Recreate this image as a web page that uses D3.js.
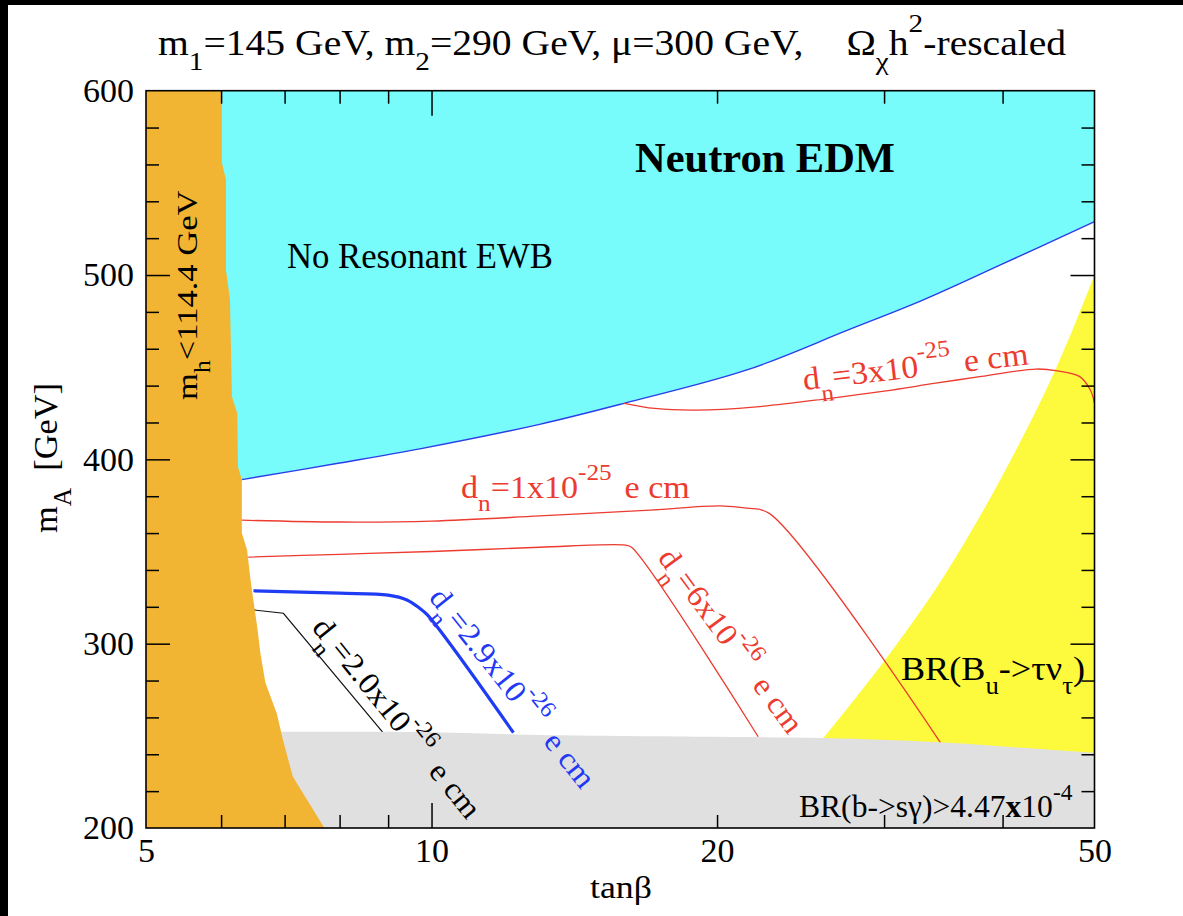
<!DOCTYPE html>
<html>
<head>
<meta charset="utf-8">
<script src="https://cdn.jsdelivr.net/npm/d3@7"></script>
<style>
  html, body { margin: 0; padding: 0; background: #fff; }
  svg { display: block; }
</style>
</head>
<body>
<svg id="chart" width="1183" height="916"></svg>
<script>
// ---------------- data ----------------
const xDomain = [5, 50];            // tan(beta), log scale
const yDomain = [200, 600];         // m_A [GeV]
const xTickLabels = [5, 10, 20, 50];
const xLongTicks = [10];
const xShortTicks = [6, 7, 8, 9, 20, 30, 40];
const yTickLabels = [200, 300, 400, 500, 600];
const yLongTicks = [300, 400, 500];
const yShortTicks = [220, 240, 260, 280, 320, 340, 360, 380, 420, 440, 460, 480, 520, 540, 560, 580];

// m_h < 114.4 GeV excluded region: right boundary (tanb, mA)
const higgsBound = [[6.01,600],[6.01,561],[6.07,552],[6.07,503],[6.13,487],[6.16,434],[6.24,425],[6.25,396],
  [6.31,389],[6.31,360],[6.39,351],[6.44,336],[6.47,328],[6.55,309],[6.60,295],[6.68,279],[6.87,262],
  [6.97,248],[7.14,228],[7.71,200]];
// Neutron EDM excluded region: lower boundary
const edmBound = [[6.31,389],[8,398],[9.72,405.7],[13,419],[15.96,430.4],[21.5,448.5],[27.5,470.2],[33,486.5],[40,506],[50,529]];
// BR(b->s gamma) excluded region: upper boundary
const bsgBound = [[5,252],[10,252],[13,250.5],[20,249.5],[26,248.8],[35,246.3],[42,243.5],[50,240.7]];
// BR(Bu->tau nu) excluded region: left boundary
const btaunuBound = [[25.9,248.8],[29.85,289],[33.95,329.1],[37.4,364.4],[40.7,398.6],[44.35,436.5],[47.35,469.6],[50,500]];

// d_n contours
const dn3e25 = [[15.96,430.4],[17.2,427.6],[19,426.7],[22,428.5],[26.2,433],[30,437],[34,441.3],[38,445],[43.4,449],[45.7,448],[48.2,445],[49.5,437.6],[50,430.5]];
const dn1e25 = [[6.31,367],[8,366],[10,366.5],[13,369.3],[17,372.5],[20.15,374.8],[21.5,373.5],[22.7,370.7],[34.4,246.3]];
const dn6e26 = [[6.41,347],[8,348.5],[10,350],[13,352.3],[16,353.5],[16.25,352.3],[22.1,249.5]];
const dn29e26 = [[6.49,328.7],[8,327.4],[9,326.3],[9.42,323.7],[9.7,319.5],[9.9,315.6],[12.2,251.7]];
const dn20e26 = [[6.49,318.3],[6.98,316.5],[8.89,251.7]];

// ---------------- drawing ----------------
const W = 1183, H = 916;
const FONT = "'Liberation Serif', 'Times New Roman', 'DejaVu Serif', serif";
const svg = d3.select('#chart');

svg.append('rect').attr('x',0).attr('y',0).attr('width',W).attr('height',H).attr('fill','#000');
svg.append('rect').attr('x',8).attr('y',5).attr('width',W-8).attr('height',H-5).attr('fill','#fff');

const x = d3.scaleLog().domain(xDomain).range([146, 1094.5]);
const y = d3.scaleLinear().domain(yDomain).range([828, 90.7]);

const line = d3.line().x(d => x(d[0])).y(d => y(d[1]));
const smooth = d3.line().x(d => x(d[0])).y(d => y(d[1])).curve(d3.curveCatmullRom.alpha(0.5));
const P = (a, b) => `L${x(a)},${y(b)}`;

const plot = svg.append('g');

// cyan EDM region (smooth lower boundary)
const edmRev = edmBound.slice().reverse();
plot.append('path')
  .attr('d', smooth(edmRev) + P(5, 389) + P(5, 600) + P(50, 600) + 'Z')
  .attr('fill', '#77fbfb');
// yellow B->tau nu region
plot.append('path')
  .attr('d', smooth(btaunuBound) + P(50, 200) + P(25.9, 200) + 'Z')
  .attr('fill', '#fdfa3e');

// contour lines
plot.append('path').attr('d', smooth(edmBound)).attr('fill','none').attr('stroke','#2b3ee8').attr('stroke-width',1.4);
[dn3e25, dn1e25, dn6e26].forEach(c => {
  plot.append('path').attr('d', smooth(c)).attr('fill','none').attr('stroke','#ec3b2f').attr('stroke-width',1.3);
});
plot.append('path').attr('d', smooth(dn29e26)).attr('fill','none').attr('stroke','#1f3cf5').attr('stroke-width',3.2).attr('stroke-linejoin','round');
plot.append('path').attr('d', line(dn20e26)).attr('fill','none').attr('stroke','#111').attr('stroke-width',1.2);

// gray b->s gamma region
plot.append('path')
  .attr('d', smooth(bsgBound) + P(50, 200) + P(5, 200) + 'Z')
  .attr('fill', '#e0e0e0');
// orange Higgs region
const orangePoly = [[5,600]].concat(higgsBound).concat([[5,200]]);
plot.append('path').attr('d', line(orangePoly) + 'Z').attr('fill', '#f2b433');

// ---------------- axes ----------------
const tickFont = g => g.selectAll('text').style('font-family', FONT).style('font-size','34px').attr('fill','#000');
const clean = g => { g.select('.domain').remove(); g.selectAll('line').attr('stroke','#000').attr('stroke-width',1.5); };

// bottom
svg.append('g').attr('transform', `translate(0,${y(200)})`)
  .call(d3.axisBottom(x).tickValues(xTickLabels).tickFormat(d3.format('d')).tickSize(0).tickPadding(10))
  .call(clean).call(tickFont);
svg.append('g').attr('transform', `translate(0,${y(200)})`)
  .call(d3.axisBottom(x).tickValues(xLongTicks).tickFormat('').tickSize(-25)).call(clean);
svg.append('g').attr('transform', `translate(0,${y(200)})`)
  .call(d3.axisBottom(x).tickValues(xShortTicks).tickFormat('').tickSize(-13)).call(clean);
// top
svg.append('g').attr('transform', `translate(0,${y(600)})`)
  .call(d3.axisTop(x).tickValues(xLongTicks).tickFormat('').tickSize(-25)).call(clean);
svg.append('g').attr('transform', `translate(0,${y(600)})`)
  .call(d3.axisTop(x).tickValues(xShortTicks).tickFormat('').tickSize(-13)).call(clean);
// left
svg.append('g').attr('transform', `translate(${x(5)},0)`)
  .call(d3.axisLeft(y).tickValues(yTickLabels).tickFormat(d3.format('d')).tickSize(0).tickPadding(12))
  .call(clean).call(tickFont);
svg.append('g').attr('transform', `translate(${x(5)},0)`)
  .call(d3.axisLeft(y).tickValues(yLongTicks).tickFormat('').tickSize(-24)).call(clean);
svg.append('g').attr('transform', `translate(${x(5)},0)`)
  .call(d3.axisLeft(y).tickValues(yShortTicks).tickFormat('').tickSize(-13)).call(clean);
// right
svg.append('g').attr('transform', `translate(${x(50)},0)`)
  .call(d3.axisRight(y).tickValues(yLongTicks).tickFormat('').tickSize(-24)).call(clean);
svg.append('g').attr('transform', `translate(${x(50)},0)`)
  .call(d3.axisRight(y).tickValues(yShortTicks).tickFormat('').tickSize(-13)).call(clean);

// frame
svg.append('rect').attr('x', x(5)).attr('y', y(600))
  .attr('width', x(50) - x(5)).attr('height', y(200) - y(600))
  .attr('fill','none').attr('stroke','#000').attr('stroke-width',1.6);

// ---------------- text ----------------
function richLabel(parts, o) {
  const g = svg.append('g');
  const t = g.append('text').attr('x',0).attr('y',0)
    .style('font-family', FONT).style('font-size', o.size + 'px')
    .style('white-space','pre').attr('fill', o.color || '#000');
  if (o.bold) t.style('font-weight','bold');
  let cur = 0;
  parts.forEach(p => {
    const ts = t.append('tspan').text(p.t);
    let off = 0, sz = o.size;
    if (p.s === 'sub') { off = o.size * (o.subOff || 0.42); sz = o.size * 0.74; }
    if (p.s === 'sup') { off = -o.size * (o.supOff || 0.55); sz = o.size * 0.74; }
    if (off - cur !== 0) ts.attr('dy', off - cur);
    cur = off;
    ts.style('font-size', sz + 'px');
    if (p.b) ts.style('font-weight','bold');
    if (p.dx) ts.attr('dx', p.dx);
  });
  let sx = 1;
  if (o.width) {
    const bb = t.node().getBBox();
    sx = o.width / bb.width;
  }
  g.attr('transform', `translate(${o.x},${o.y}) rotate(${o.angle || 0}) scale(${sx},1)`);
  return g;
}

// title
richLabel([{t:'m'},{t:'1',s:'sub'},{t:'=145 GeV, m'},{t:'2',s:'sub'},{t:'=290 GeV, μ=300 GeV,'},
  {t:'Ω',dx:38},{t:'χ',s:'sub'},{t:'h'},{t:'2',s:'sup'},{t:'-rescaled'}],
  {x:158, y:55, size:35, width:909, subOff:0.42, supOff:0.66});

// axis titles
richLabel([{t:'tanβ'}], {x:590, y:898, size:31, width:62});
richLabel([{t:'m'},{t:'A',s:'sub'},{t:'  [GeV]'}], {x:57, y:533, size:33, angle:-90, width:150});

// region labels
richLabel([{t:'Neutron EDM'}], {x:635, y:172, size:42, bold:true, width:260});
richLabel([{t:'No Resonant EWB'}], {x:287, y:268, size:35, width:266});
richLabel([{t:'m'},{t:'h',s:'sub'},{t:'<114.4 GeV'}], {x:197, y:400, size:30, angle:-90, width:210});
richLabel([{t:'BR(B'},{t:'u',s:'sub'},{t:'->τν'},{t:'τ',s:'sub'},{t:')'}], {x:901, y:680, size:34, width:184});
richLabel([{t:'BR(b->sγ)>4.47'},{t:'x',b:true},{t:'10'},{t:'-4',s:'sup'}], {x:799, y:817, size:31, width:274});

// contour labels
const RED = '#ec3b2f';
richLabel([{t:'d'},{t:'n',s:'sub'},{t:'=1x10'},{t:'-25',s:'sup'},{t:' e cm',dx:4}], {x:461, y:498, size:32, color:RED, width:229});
richLabel([{t:'d'},{t:'n',s:'sub'},{t:'=3x10'},{t:'-25',s:'sup'},{t:' e cm',dx:4}], {x:804, y:390, size:32, color:RED, angle:-6.5, width:227});
richLabel([{t:'d'},{t:'n',s:'sub'},{t:'=6x10'},{t:'-26',s:'sup'},{t:'  e cm'}], {x:657, y:558, size:31, color:RED, angle:53.5, width:221});
richLabel([{t:'d'},{t:'n',s:'sub'},{t:'=2.9x10'},{t:'-26',s:'sup'},{t:'  e cm'}], {x:428, y:598, size:31, color:'#2238f5', angle:51.5, width:246});
richLabel([{t:'d'},{t:'n',s:'sub'},{t:'=2.0x10'},{t:'-26',s:'sup'},{t:'  e cm'}], {x:311, y:628, size:31, color:'#000', angle:51, width:248});
</script>
</body>
</html>
